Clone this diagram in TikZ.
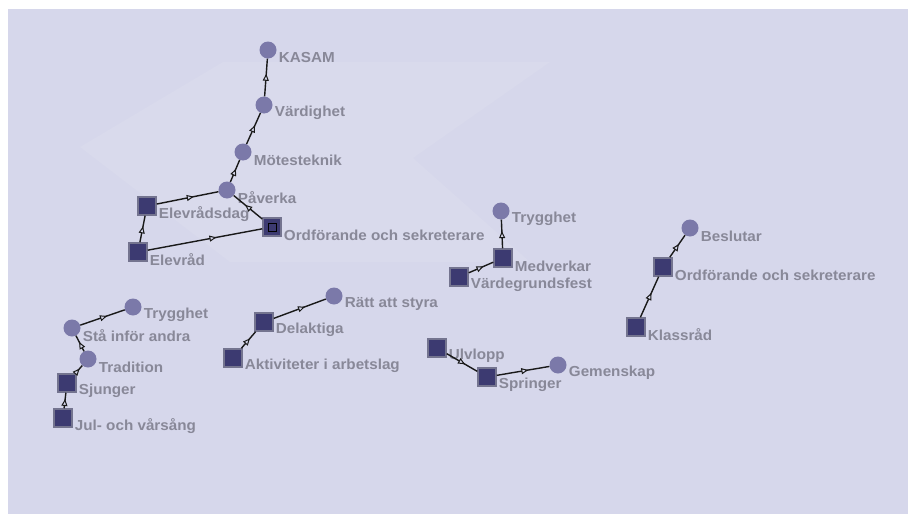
\documentclass[tikz,border=0pt]{standalone}
\usepackage{fontspec}
\usepackage{tikz}
\usetikzlibrary{arrows.meta,decorations.markings}
\newfontfamily\lblfont[FakeStretch=1.05]{Liberation Sans}
\definecolor{bgc}{HTML}{D6D7EB}
\definecolor{markc}{HTML}{D9DAEC}
\definecolor{concc}{HTML}{7B79A9}
\definecolor{actc}{HTML}{3C3A71}
\definecolor{actedge}{HTML}{74748F}
\definecolor{lblc}{HTML}{888898}

\begin{document}
\begin{tikzpicture}[x = 1pt, y = -1pt,
    every label/.style = { text = lblc, font = \lblfont\bfseries\fontsize{14.5}{16}\selectfont, inner sep = 0pt, yshift = -8pt },
    label distance = 2pt,
    conc/.style = { circle, fill = concc, minimum size = 17pt, inner sep = 0pt },
    act/.style = { rectangle, fill = actc, draw = actedge, line width = 1.5pt, minimum size = 18pt, inner sep = 0pt },
    sel/.style = { act, path picture = { \draw [black, line width = 1pt] ([shift = {(-4pt,-4pt)}]path picture bounding box.center) rectangle ++(8pt,8pt); } },
    link/.style = { draw = black!90, line width = 1.4pt, postaction = decorate,
      decoration = { markings, mark = at position 0.6 with { \arrow{Triangle[length = 7pt, width = 6pt, fill = bgc, line width = 1pt]} } } }
  ]
  \useasboundingbox (0,0) rectangle (908,514);
  \fill [white] (0,0) rectangle (908,514);
  \fill [bgc] (8,9) rectangle (908,514);
  \fill [markc] (80,147) -- (223,62) -- (550,62) -- (413,158) -- (530,262) -- (230,262) -- cycle;

  \node [conc, label = right:KASAM] (kasam) at (268,50) {};
  \node [conc, label = right:Värdighet] (vardig) at (264,105) {};
  \node [conc, label = right:Mötesteknik] (mote) at (243,152) {};
  \node [conc, label = right:Påverka] (paverka) at (227,190) {};
  \node [act, label = right:Elevrådsdag] (elevdag) at (147,206) {};
  \node [sel, label = right:Ordförande och sekreterare] (ordf) at (272,227) {};
  \node [act, label = right:Elevråd] (elevrad) at (138,252) {};

  \node [conc, label = right:Trygghet] (trygg) at (501,211) {};
  \node [act, label = right:Medverkar] (medverk) at (503,258) {};
  \node [act, label = right:Värdegrundsfest] (vfest) at (459,277) {};

  \node [conc, label = right:Beslutar] (beslut) at (690,228) {};
  \node [act, label = right:Ordförande och sekreterare] (ordfk) at (663,267) {};
  \node [act, label = right:Klassråd] (klass) at (636,327) {};

  \node [conc, label = right:Trygghet] (tryggs) at (133,307) {};
  \node [conc, label = right:Stå inför andra] (sta) at (72,328) {};
  \node [conc, label = right:Tradition] (trad) at (88,359) {};
  \node [act, label = right:Sjunger] (sjung) at (67,383) {};
  \node [act, label = right:Jul- och vårsång] (jul) at (63,418) {};

  \node [conc, label = right:Rätt att styra] (ratt) at (334,296) {};
  \node [act, label = right:Delaktiga] (delakt) at (264,322) {};
  \node [act, label = right:Aktiviteter i arbetslag] (aktiv) at (233,358) {};

  \node [act, label = right:Ulvlopp] (ulv) at (437,348) {};
  \node [act, label = right:Springer] (spring) at (487,377) {};
  \node [conc, label = right:Gemenskap] (gemen) at (558,365) {};

  \foreach \from/\to in {vardig/kasam, mote/vardig, paverka/mote, elevdag/paverka, ordf/paverka,
      elevrad/elevdag, elevrad/ordf, medverk/trygg, vfest/medverk, ordfk/beslut, klass/ordfk,
      sta/tryggs, trad/sta, sjung/trad, jul/sjung, delakt/ratt, aktiv/delakt, ulv/spring, spring/gemen}
    \draw [link] (\from) -- (\to);
\end{tikzpicture}
\end{document}
